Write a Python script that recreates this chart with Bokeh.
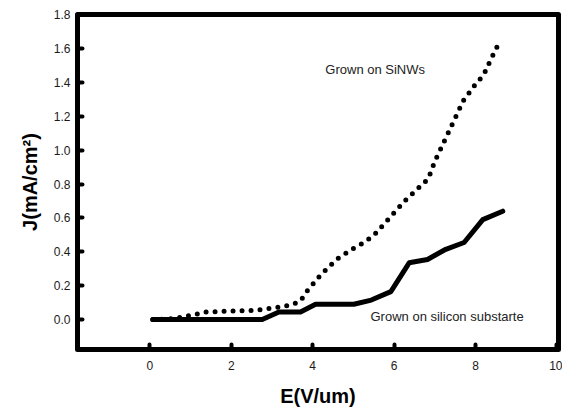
from bokeh.plotting import figure
from bokeh.models import Range1d, FixedTicker, PrintfTickFormatter, ColumnDataSource
from bokeh.core.properties import value
from bokeh.embed import file_html
from bokeh.resources import INLINE

# Data
sinw_x = [0.07, 0.6, 1.1, 1.4, 2.0, 2.6, 3.1, 3.5, 3.7, 3.85, 4.2, 4.6, 5.0, 5.3, 5.55, 6.25, 6.84, 7.0, 7.7, 8.0, 8.2, 8.4, 8.62]
sinw_y = [0.0, 0.005, 0.03, 0.045, 0.05, 0.055, 0.07, 0.088, 0.11, 0.165, 0.265, 0.358, 0.42, 0.46, 0.51, 0.698, 0.832, 0.934, 1.292, 1.39, 1.445, 1.548, 1.655]

si_x = [0.07, 2.76, 3.17, 3.7, 4.07, 5.01, 5.44, 5.92, 6.37, 6.82, 7.27, 7.72, 8.18, 8.67]
si_y = [0.0, 0.0, 0.045, 0.045, 0.09, 0.09, 0.115, 0.165, 0.335, 0.355, 0.415, 0.455, 0.59, 0.64]

x_ticks = [0, 2, 4, 6, 8, 10]
y_ticks = [0.0, 0.2, 0.4, 0.6, 0.8, 1.0, 1.2, 1.4, 1.6, 1.8]

label_text = ["Grown on SiNWs", "Grown on silicon substarte"]
label_x = [4.31, 5.42]
label_y = [1.476, 0.018]

FONT = "Liberation Sans"

p = figure(output_backend="svg", toolbar_location=None,
           frame_width=481, frame_height=335,
           min_border_left=77, min_border_right=4,
           min_border_top=14, min_border_bottom=55,
           x_range=Range1d(-1.78, 10.04), y_range=Range1d(-0.177, 1.802))

p.xgrid.visible = False
p.ygrid.visible = False
p.background_fill_color = "white"
p.border_fill_color = "white"
p.outline_line_color = "black"
p.outline_line_width = 5
p.outline_line_join = "round"

for ax in (p.xaxis[0], p.yaxis[0]):
    ax.axis_line_width = 5
    ax.axis_line_color = "black"
    ax.major_tick_in = 5
    ax.major_tick_out = 0
    ax.major_tick_line_width = 4
    ax.major_tick_line_cap = "round"
    ax.major_tick_line_color = "black"
    ax.minor_tick_line_color = None
    ax.major_label_text_font = FONT
    ax.major_label_text_font_size = "12px"
    ax.major_label_text_color = "#1a1a1a"
    ax.axis_label_text_font = FONT
    ax.axis_label_text_font_size = "20px"
    ax.axis_label_text_font_style = "bold"
    ax.axis_label_text_color = "black"

p.xaxis.ticker = FixedTicker(ticks=x_ticks)
p.yaxis.ticker = FixedTicker(ticks=y_ticks)
p.yaxis.formatter = PrintfTickFormatter(format="%.1f")
p.xaxis.major_label_standoff = 11
p.yaxis.major_label_standoff = 7
p.xaxis.axis_label = "E(V/um)"
p.yaxis.axis_label = "J(mA/cm²)"
p.xaxis.axis_label_standoff = 12
p.yaxis.axis_label_standoff = 10

p.line(sinw_x, sinw_y, line_color="black", line_width=5,
       line_dash="0 9", line_cap="round", line_join="round")
p.line(si_x, si_y, line_color="black", line_width=5,
       line_cap="round", line_join="round")

src = ColumnDataSource(dict(x=label_x, y=label_y, t=label_text))
p.text(x="x", y="y", text="t", source=src, text_font=value(FONT),
       text_font_size="13px", text_color="#222222",
       text_baseline="middle", text_align="left")

open("out.html", "w").write(file_html(p, INLINE))
